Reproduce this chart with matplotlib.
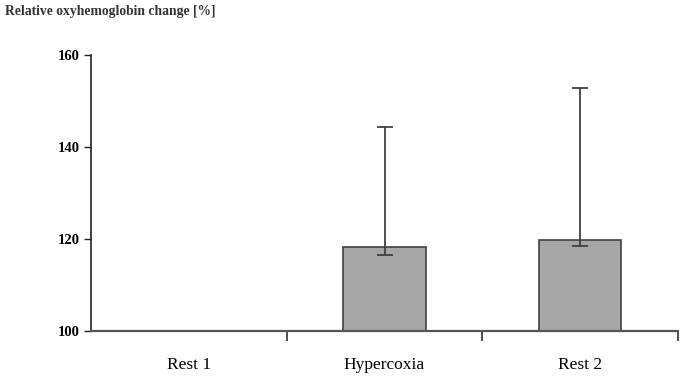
import matplotlib
matplotlib.use("Agg")
import matplotlib.pyplot as plt
import numpy as np

categories = ["Rest 1", "Hypercoxia", "Rest 2"]
values = [100.0, 118.3, 119.8]
err_low = [100.0, 116.6, 118.5]
err_high = [100.0, 144.3, 152.8]
yticks = [100, 120, 140, 160]
title = "Relative oxyhemoglobin change [%]"

plt.rcParams['font.family'] = ['Liberation Serif', 'DejaVu Serif']

fig = plt.figure(figsize=(6.81, 3.76), dpi=100)
ax = fig.add_axes([91/681, 1-331/376, (678-91)/681, (331-55)/376])

x = np.arange(len(categories))
base = 100
heights = [v - base for v in values]
show = [i for i in range(len(values)) if values[i] > base]
ax.bar(x[show], [heights[i] for i in show], bottom=base, width=0.42,
       color='#a6a6a6', edgecolor='#404040', linewidth=1.2, zorder=2)
lo = np.array([values[i] - err_low[i] for i in show])
hi = np.array([err_high[i] - values[i] for i in show])
ax.errorbar(x[show], [values[i] for i in show], yerr=[lo, hi], fmt='none',
            ecolor='#404040', elinewidth=1.3, capsize=6, capthick=1.3, zorder=3)

ax.set_xlim(-0.5, 2.5)
ax.set_ylim(100, 160)
ax.set_yticks(yticks)
ax.set_yticklabels([str(t) for t in yticks], fontsize=10.5, fontweight='bold')
ax.tick_params(axis='y', direction='out', length=5, width=1, color='#222222', pad=3)

ax.set_xticks(x)
ax.set_xticklabels(categories, fontsize=12.5)
ax.tick_params(axis='x', which='major', length=0, pad=19)
ax.set_xticks([0.5, 1.5, 2.5], minor=True)
ax.tick_params(axis='x', which='minor', direction='out', length=7, width=1.3, color='#404040')

for s in ['top', 'right']:
    ax.spines[s].set_visible(False)
ax.spines['left'].set_color('#222222')
ax.spines['left'].set_linewidth(1.2)
ax.spines['bottom'].set_color('#555555')
ax.spines['bottom'].set_linewidth(1.6)

fig.text(5/681, 1-11/376, title, fontsize=9.8, fontweight='bold', color='#333333',
         ha='left', va='center')

fig.savefig("out.png", dpi=100)
